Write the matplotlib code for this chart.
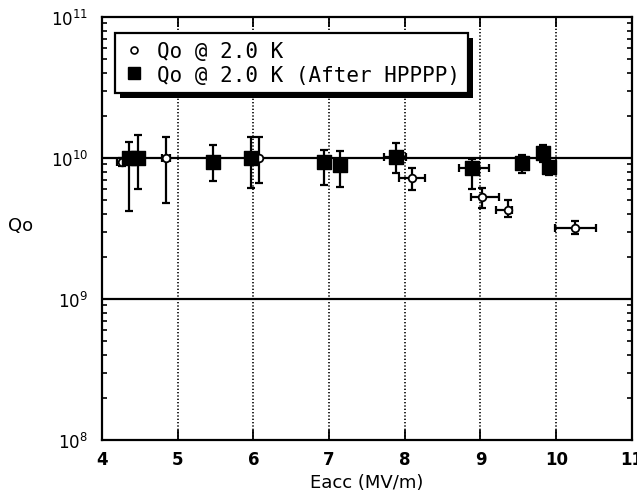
import matplotlib
matplotlib.use('Agg')
import matplotlib.pyplot as plt
from matplotlib.lines import Line2D
from matplotlib.patches import Rectangle

# Qo @ 2.0 K (open circles)
open_x = [4.26, 4.85, 6.08, 8.10, 9.02, 9.36, 10.25]
open_q = [9.4e9, 1.0e10, 1.0e10, 7.2e9, 5.3e9, 4.3e9, 3.2e9]
open_q_lo = [8.8e9, 4.8e9, 6.7e9, 5.9e9, 4.4e9, 3.8e9, 2.9e9]
open_q_hi = [1.0e10, 1.4e10, 1.4e10, 8.5e9, 6.1e9, 5.0e9, 3.6e9]
open_x_lo = [4.20, 4.80, 6.08, 7.93, 8.88, 9.20, 9.99]
open_x_hi = [4.32, 4.90, 6.08, 8.27, 9.24, 9.42, 10.52]

# Qo @ 2.0 K (After HPPPP) (filled squares)
hp_x = [4.36, 4.47, 5.47, 5.97, 6.93, 7.14, 7.89, 8.89, 9.55, 9.83, 9.90]
hp_q = [1.0e10, 1.0e10, 9.3e9, 1.0e10, 9.4e9, 8.9e9, 1.02e10, 8.5e9, 9.2e9, 1.08e10, 8.6e9]
hp_q_lo = [4.2e9, 6.0e9, 6.9e9, 6.1e9, 6.4e9, 6.2e9, 7.8e9, 6.0e9, 7.8e9, 9.4e9, 7.6e9]
hp_q_hi = [1.3e10, 1.45e10, 1.23e10, 1.4e10, 1.14e10, 1.12e10, 1.27e10, 9.8e9, 1.05e10, 1.24e10, 9.0e9]
hp_x_lo = [4.36, 4.47, 5.47, 5.97, 6.93, 7.14, 7.73, 8.72, 9.55, 9.83, 9.90]
hp_x_hi = [4.36, 4.47, 5.47, 5.97, 6.93, 7.14, 8.02, 9.11, 9.55, 9.83, 9.90]

x_ticks = [4, 5, 6, 7, 8, 9, 10, 11]
grid_x = [5, 6, 7, 8, 9, 10]
grid_y = [1e9, 1e10]


def asym(v, lo, hi):
  return [[a - b for a, b in zip(v, lo)], [c - a for a, c in zip(v, hi)]]


if __name__ == '__main__':

  fig = plt.figure(figsize=(6.37, 5.02), dpi=100)
  ax = fig.add_axes([0.160, 0.1215, 0.832, 0.8426])

  # grid: dotted verticals, solid horizontals at decades
  for v in grid_x:
    ax.axvline(v, color='black', linestyle=(0, (0.8, 1.2)), linewidth=1.2, zorder=1)
  for h in grid_y:
    ax.axhline(h, color='black', linewidth=1.6, zorder=1)

  ax.errorbar(hp_x, hp_q, yerr=asym(hp_q, hp_q_lo, hp_q_hi),
              xerr=asym(hp_x, hp_x_lo, hp_x_hi), fmt='none', ecolor='black',
              elinewidth=1.6, capsize=3, capthick=1.6, zorder=3)
  ax.errorbar(open_x, open_q, yerr=asym(open_q, open_q_lo, open_q_hi),
              xerr=asym(open_x, open_x_lo, open_x_hi), fmt='none', ecolor='black',
              elinewidth=1.6, capsize=3, capthick=1.6, zorder=3)

  ax.scatter(open_x, open_q, s=30, marker='o', facecolor='white',
             edgecolor='black', linewidth=1.3, zorder=4)
  ax.scatter(hp_x, hp_q, s=90, marker='s', color='black', zorder=5)

  ax.set_yscale('log')
  ax.set_xlim(4, 11)
  ax.set_ylim(1e8, 1e11)
  ax.set_xticks(x_ticks)
  ax.tick_params(which='both', direction='in', top=True, right=True)
  ax.tick_params(which='major', length=7, width=1.3)
  ax.tick_params(which='minor', length=3.5, width=1.2)
  ax.tick_params(axis='x', labelsize=12, pad=7)
  ax.tick_params(axis='y', labelsize=12, pad=10)
  for lab in ax.get_xticklabels():
    lab.set_fontweight('bold')
  for s in ax.spines.values():
    s.set_linewidth(1.6)

  ax.set_xlabel('Eacc (MV/m)', fontsize=13, labelpad=4)
  ax.set_ylabel('Qo', fontsize=13, rotation=0, va='center', ha='center')
  ax.yaxis.set_label_coords(-0.154, 0.508)

  handles = [
    Line2D([], [], linestyle='none', marker='o', markersize=5,
           markerfacecolor='white', markeredgecolor='black', markeredgewidth=1.2),
    Line2D([], [], linestyle='none', marker='s', markersize=8, color='black'),
  ]
  labels = ['Qo @ 2.0 K', 'Qo @ 2.0 K (After HPPPP)']
  leg = ax.legend(handles, labels, loc='upper left', bbox_to_anchor=(0.0245, 0.962),
                  prop={'family': 'DejaVu Sans Mono', 'size': 15},
                  frameon=True, fancybox=False, edgecolor='black',
                  framealpha=1, borderpad=0.4, borderaxespad=0,
                  handlelength=1.0, handletextpad=0.6, labelspacing=0.15)
  leg.get_frame().set_linewidth(1.6)
  leg.set_zorder(10)

  # hard black drop shadow behind the legend box
  fig.canvas.draw()
  bb = leg.get_window_extent()
  shadow = Rectangle((bb.x0 + 5, bb.y0 - 5), bb.width, bb.height,
                     transform=None, facecolor='black', edgecolor='none', zorder=9)
  ax.add_artist(shadow)

  plt.savefig('out.png', dpi=100)
